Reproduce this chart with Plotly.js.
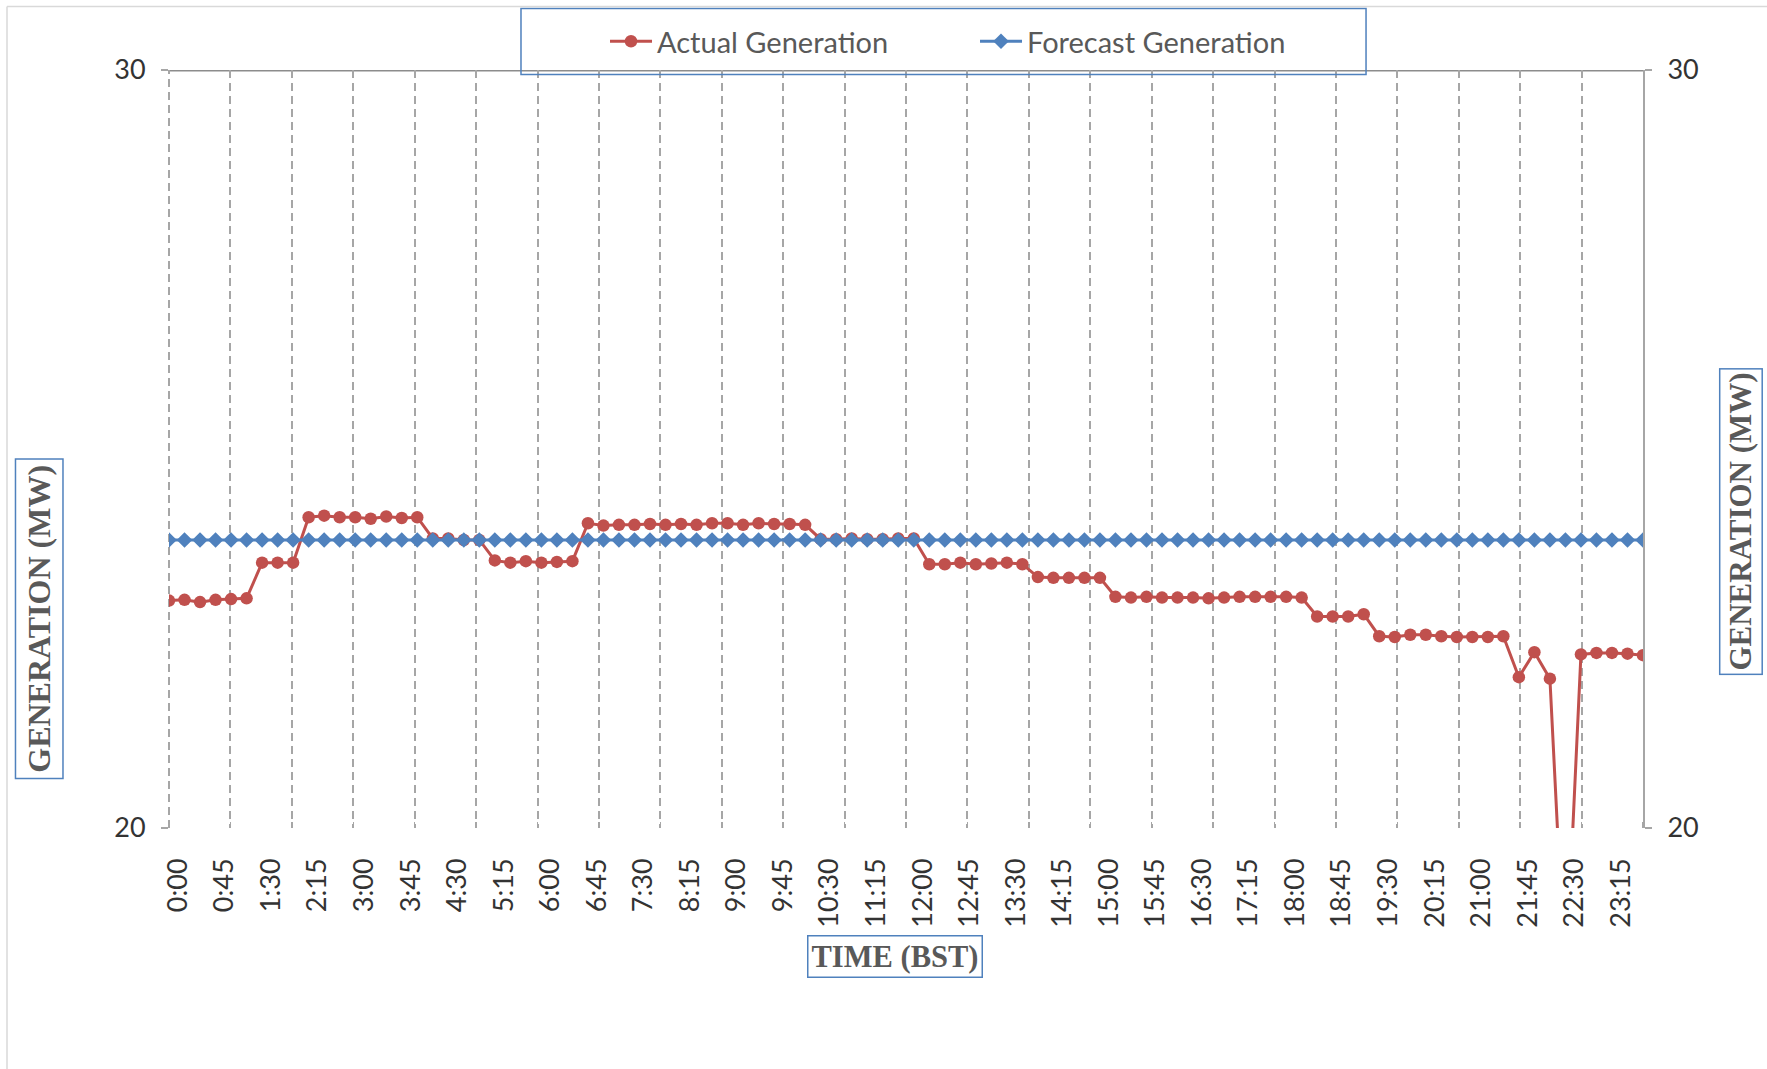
<!DOCTYPE html>
<html>
<head>
<meta charset="utf-8">
<script src="https://cdn.plot.ly/plotly-3.0.1.min.js"></script>
<style>html,body{margin:0;padding:0;background:#fff;}#chart{width:1767px;height:1069px;}</style>
</head>
<body>
<div id="chart"></div>
<script>
const times = ["0:00","0:15","0:30","0:45","1:00","1:15","1:30","1:45","2:00","2:15","2:30","2:45",
"3:00","3:15","3:30","3:45","4:00","4:15","4:30","4:45","5:00","5:15","5:30","5:45",
"6:00","6:15","6:30","6:45","7:00","7:15","7:30","7:45","8:00","8:15","8:30","8:45",
"9:00","9:15","9:30","9:45","10:00","10:15","10:30","10:45","11:00","11:15","11:30","11:45",
"12:00","12:15","12:30","12:45","13:00","13:15","13:30","13:45","14:00","14:15","14:30","14:45",
"15:00","15:15","15:30","15:45","16:00","16:15","16:30","16:45","17:00","17:15","17:30","17:45",
"18:00","18:15","18:30","18:45","19:00","19:15","19:30","19:45","20:00","20:15","20:30","20:45",
"21:00","21:15","21:30","21:45","22:00","22:15","22:30","22:45","23:00","23:15","23:30","23:45"];

const tickLabels = ["0:00","0:45","1:30","2:15","3:00","3:45","4:30","5:15","6:00","6:45","7:30","8:15",
"9:00","9:45","10:30","11:15","12:00","12:45","13:30","14:15","15:00","15:45","16:30","17:15",
"18:00","18:45","19:30","20:15","21:00","21:45","22:30","23:15"];

const actualGeneration = [23.00,23.01,22.98,23.01,23.02,23.03,
23.50,23.50,23.50,
24.10,24.12,24.10,24.10,24.08,24.11,24.09,24.10,
23.82,23.82,23.80,23.80,
23.53,23.50,23.52,23.50,23.51,23.52,
24.02,23.99,24.00,24.00,24.01,24.00,24.01,24.00,24.02,24.02,24.00,24.02,24.01,24.01,24.00,
23.81,23.81,23.82,23.81,23.81,23.82,23.82,
23.48,23.48,23.50,23.48,23.49,23.50,23.48,
23.31,23.30,23.30,23.30,23.30,
23.05,23.04,23.05,23.04,23.04,23.04,23.03,23.04,23.05,23.05,23.05,23.05,23.04,
22.79,22.79,22.79,22.82,
22.53,22.52,22.55,22.55,22.53,22.52,22.52,22.52,22.53,
21.99,22.32,21.97,
17.90,
22.29,22.31,22.31,22.30,22.28];

const forecastGeneration = [23.8,23.8,23.8,23.8,23.8,23.8,23.8,23.8,23.8,23.8,23.8,23.8,
23.8,23.8,23.8,23.8,23.8,23.8,23.8,23.8,23.8,23.8,23.8,23.8,
23.8,23.8,23.8,23.8,23.8,23.8,23.8,23.8,23.8,23.8,23.8,23.8,
23.8,23.8,23.8,23.8,23.8,23.8,23.8,23.8,23.8,23.8,23.8,23.8,
23.8,23.8,23.8,23.8,23.8,23.8,23.8,23.8,23.8,23.8,23.8,23.8,
23.8,23.8,23.8,23.8,23.8,23.8,23.8,23.8,23.8,23.8,23.8,23.8,
23.8,23.8,23.8,23.8,23.8,23.8,23.8,23.8,23.8,23.8,23.8,23.8,
23.8,23.8,23.8,23.8,23.8,23.8,23.8,23.8,23.8,23.8,23.8,23.8];

const xIdx = times.map((t, i) => i);
const RED = '#c0504d', BLUE = '#4f81bd', GRID = '#a6a6a6';
const tickFont = {family: 'Lato, "Open Sans", sans-serif', size: 27, color: '#333333'};
const titleFont = {family: '"Liberation Serif", "Times New Roman", serif', size: 32, color: '#595959'};

const traces = [
  {x: xIdx, y: actualGeneration, name: 'Actual Generation', type: 'scatter', mode: 'lines+markers',
   line: {color: RED, width: 3}, marker: {symbol: 'circle', size: 12.5, color: RED}, xaxis: 'x', yaxis: 'y'},
  {x: xIdx, y: forecastGeneration, name: 'Forecast Generation', type: 'scatter', mode: 'lines+markers',
   line: {color: BLUE, width: 3}, marker: {symbol: 'diamond', size: 12, color: BLUE}, xaxis: 'x', yaxis: 'y2'}
];

const layout = {
  width: 1767, height: 1069,
  paper_bgcolor: '#ffffff', plot_bgcolor: '#ffffff',
  margin: {l: 169, r: 124, t: 70, b: 241},
  showlegend: true,
  legend: {orientation: 'h', x: 0.2958, xanchor: 'left', y: 1.0377, yanchor: 'middle',
    font: {family: 'Lato, "Open Sans", sans-serif', size: 29, color: '#595959'},
    bgcolor: 'rgba(0,0,0,0)', borderwidth: 0, itemwidth: 42, entrywidth: 313, entrywidthmode: 'pixels'},
  xaxis: {type: 'linear', range: [0, times.length - 1],
    tickvals: tickLabels.map(l => times.indexOf(l)), ticktext: tickLabels,
    tickangle: -90, ticks: '', ticklabelstandoff: 24, ticklabelshift: 9,
    showgrid: false, zeroline: false, showline: false, tickfont: tickFont,
    minor: {dtick: (times.length - 1) / 24, tick0: 0, showgrid: true, gridcolor: GRID, griddash: '8px,5px', gridwidth: 2,
            ticks: 'inside', ticklen: 6, tickcolor: GRID, tickwidth: 1.5}},
  yaxis: {range: [20, 30], tickvals: [20, 30], ticks: 'outside', ticklen: 7, tickcolor: GRID, tickwidth: 1.5,
    showgrid: true, gridcolor: GRID, griddash: '8px,5px', gridwidth: 2, zeroline: false, showline: false,
    tickfont: tickFont, ticklabelstandoff: 10},
  yaxis2: {range: [20, 30], tickvals: [20, 30], overlaying: 'y', side: 'right', ticks: 'outside', ticklen: 7,
    tickcolor: GRID, tickwidth: 1.5, showgrid: false, zeroline: false, showline: true, linecolor: GRID, linewidth: 2,
    tickfont: tickFont, ticklabelstandoff: 10},
  shapes: [
    {type: 'line', xref: 'paper', yref: 'y', x0: 0, x1: 1, y0: 30, y1: 30, line: {color: '#8c8c8c', width: 3}, layer: 'below'},
    {type: 'line', xref: 'paper', yref: 'paper', x0: 0, x1: 0, y0: 0, y1: 1, line: {color: GRID, width: 2, dash: '8px,5px'}, layer: 'below'},
    {type: 'rect', xref: 'paper', yref: 'paper', x0: 0.2388, x1: 0.8121, y0: 0.9941, y1: 1.0812, line: {color: BLUE, width: 1.5}, fillcolor: 'rgba(0,0,0,0)', layer: 'above'},
    {type: 'line', xref: 'paper', yref: 'paper', x0: -0.1099, x1: -0.1099, y0: -0.5, y1: 1.0839, line: {color: '#d9d9d9', width: 1.5}},
    {type: 'line', xref: 'paper', yref: 'paper', x0: -0.1099, x1: 1.2, y0: 1.0839, y1: 1.0839, line: {color: '#d9d9d9', width: 1.5}}
  ],
  annotations: [
    {text: '<b>GENERATION (MW)</b>', xref: 'paper', yref: 'paper', x: -0.0882, y: 0.2767, xanchor: 'center', yanchor: 'middle',
     textangle: -90, showarrow: false, font: titleFont, bordercolor: BLUE, borderwidth: 1.5, borderpad: 5},
    {text: '<b>GENERATION (MW)</b>', xref: 'paper', yref: 'paper', x: 1.0665, y: 0.4036, xanchor: 'center', yanchor: 'middle',
     textangle: -90, showarrow: false, font: Object.assign({}, titleFont, {size: 31}), bordercolor: BLUE, borderwidth: 1.5, borderpad: 3},
    {text: '<b>TIME (BST)</b>', xref: 'paper', yref: 'paper', x: 0.4925, y: -0.1691, xanchor: 'center', yanchor: 'middle',
     showarrow: false, font: Object.assign({}, titleFont, {size: 30.5}), bordercolor: BLUE, borderwidth: 1.5, borderpad: 3}
  ]
};

Plotly.newPlot('chart', traces, layout, {displayModeBar: false, staticPlot: true});
</script>
</body>
</html>
